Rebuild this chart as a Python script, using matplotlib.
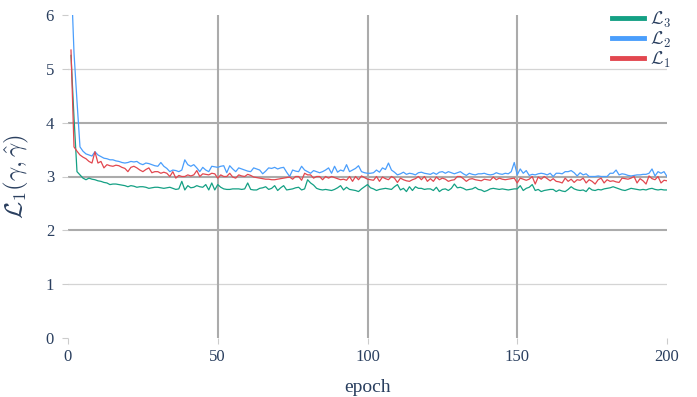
import numpy as np
import matplotlib
matplotlib.use("Agg")
import matplotlib.pyplot as plt

plt.rcParams["font.family"] = ["Liberation Serif", "DejaVu Serif"]
plt.rcParams["mathtext.fontset"] = "cm"

epochs = np.arange(1, 201)

loss_l1 = [
    5.35, 3.55, 3.47, 3.40, 3.36, 3.33, 3.28, 3.25, 3.46, 3.25,
    3.28, 3.16, 3.22, 3.20, 3.19, 3.21, 3.20, 3.17, 3.15, 3.09,
    3.17, 3.19, 3.16, 3.12, 3.09, 3.13, 3.16, 3.07, 3.09, 3.09,
    3.06, 3.08, 3.06, 3.00, 3.09, 2.97, 3.02, 3.00, 3.00, 3.03,
    3.01, 3.03, 3.11, 3.00, 3.05, 3.04, 3.03, 3.06, 3.05, 2.97,
    3.03, 3.00, 3.00, 3.06, 2.99, 2.97, 3.03, 3.01, 3.00, 3.04,
    3.02, 2.99, 2.98, 2.97, 2.96, 2.95, 2.95, 2.94, 2.94, 2.95,
    2.96, 2.97, 2.98, 2.99, 2.95, 3.00, 3.00, 2.93, 3.06, 3.03,
    3.03, 2.97, 3.00, 3.00, 2.94, 3.00, 2.97, 3.00, 2.98, 2.96,
    2.94, 2.95, 2.93, 3.00, 2.91, 3.00, 2.94, 3.01, 2.98, 2.95,
    2.94, 2.93, 3.00, 2.91, 2.99, 2.96, 2.94, 3.00, 2.97, 2.89,
    2.97, 2.94, 2.92, 2.91, 2.94, 2.96, 3.00, 2.94, 3.00, 2.91,
    2.96, 2.91, 2.99, 2.94, 2.97, 2.95, 2.91, 2.93, 2.94, 3.00,
    3.00, 2.96, 2.91, 2.95, 2.96, 2.94, 2.93, 2.92, 2.95, 2.94,
    2.93, 2.99, 2.94, 2.97, 2.95, 2.94, 2.95, 2.96, 2.97, 2.88,
    2.97, 2.95, 2.93, 2.95, 3.00, 2.86, 2.99, 2.95, 3.00, 2.96,
    2.92, 2.96, 2.91, 2.90, 2.88, 2.97, 2.91, 2.95, 2.89, 2.94,
    2.93, 2.97, 2.88, 2.94, 2.91, 2.86, 2.94, 2.97, 2.88, 2.94,
    2.91, 2.92, 2.90, 2.89, 2.97, 2.96, 2.95, 2.97, 3.00, 2.88,
    2.96, 2.92, 2.86, 3.01, 2.96, 2.94, 3.00, 2.88, 2.93, 2.92,
]

loss_l2 = [
    6.80, 5.30, 4.40, 3.55, 3.47, 3.42, 3.40, 3.38, 3.46, 3.40,
    3.37, 3.34, 3.33, 3.31, 3.31, 3.29, 3.28, 3.26, 3.25, 3.26,
    3.28, 3.27, 3.28, 3.24, 3.22, 3.25, 3.24, 3.22, 3.20, 3.19,
    3.26, 3.19, 3.15, 3.09, 3.12, 3.11, 3.09, 3.12, 3.31, 3.22,
    3.19, 3.22, 3.16, 3.09, 3.17, 3.12, 3.09, 3.19, 3.18, 3.17,
    3.19, 3.20, 3.07, 3.20, 3.14, 3.09, 3.16, 3.14, 3.12, 3.10,
    3.09, 3.16, 3.14, 3.12, 3.05, 3.10, 3.16, 3.15, 3.17, 3.14,
    3.16, 3.17, 3.08, 3.00, 3.12, 3.10, 3.09, 3.19, 3.12, 3.09,
    3.06, 3.11, 3.09, 3.07, 3.09, 3.12, 3.16, 3.06, 3.19, 3.08,
    3.12, 3.10, 3.22, 3.09, 3.12, 3.15, 3.20, 3.09, 3.07, 3.06,
    3.06, 3.07, 3.12, 3.08, 3.16, 3.13, 3.25, 3.12, 3.08, 3.03,
    3.05, 3.08, 3.04, 3.06, 3.05, 3.03, 3.07, 3.08, 3.06, 3.05,
    3.04, 3.07, 3.04, 3.08, 3.09, 3.06, 3.09, 3.07, 3.05, 3.07,
    3.09, 3.05, 3.02, 3.06, 3.04, 3.03, 3.05, 3.05, 3.06, 3.04,
    3.03, 3.04, 3.07, 3.05, 3.04, 3.06, 3.05, 3.09, 3.26, 3.03,
    3.14, 3.06, 3.11, 3.02, 3.04, 3.03, 3.05, 3.06, 3.05, 3.03,
    3.06, 3.00, 3.06, 3.06, 3.05, 3.09, 3.09, 3.11, 3.07, 3.01,
    3.07, 3.03, 3.05, 3.00, 3.00, 3.00, 3.01, 3.00, 3.00, 3.00,
    3.06, 3.06, 3.12, 3.03, 3.05, 3.04, 3.02, 3.01, 3.02, 3.03,
    3.03, 3.04, 3.04, 3.06, 3.14, 3.01, 3.09, 3.06, 3.09, 3.00,
]

loss_l3 = [
    5.25, 4.10, 3.09, 3.03, 2.97, 2.94, 2.97, 2.95, 2.94, 2.92,
    2.91, 2.89, 2.88, 2.85, 2.86, 2.86, 2.85, 2.84, 2.83, 2.81,
    2.83, 2.82, 2.80, 2.81, 2.81, 2.80, 2.78, 2.79, 2.80, 2.80,
    2.79, 2.78, 2.79, 2.80, 2.78, 2.76, 2.77, 2.91, 2.75, 2.83,
    2.79, 2.80, 2.83, 2.81, 2.80, 2.85, 2.75, 2.88, 2.75, 2.85,
    2.80, 2.77, 2.76, 2.76, 2.77, 2.77, 2.77, 2.76, 2.77, 2.88,
    2.76, 2.75, 2.75, 2.78, 2.79, 2.81, 2.76, 2.78, 2.83, 2.74,
    2.79, 2.83, 2.75, 2.76, 2.77, 2.79, 2.80, 2.75, 2.77, 2.94,
    2.88, 2.84, 2.78, 2.76, 2.75, 2.76, 2.75, 2.74, 2.76, 2.79,
    2.83, 2.75, 2.80, 2.76, 2.75, 2.74, 2.72, 2.77, 2.81, 2.85,
    2.79, 2.77, 2.74, 2.76, 2.77, 2.78, 2.77, 2.76, 2.81, 2.85,
    2.75, 2.78, 2.72, 2.81, 2.74, 2.81, 2.78, 2.78, 2.76, 2.77,
    2.77, 2.74, 2.80, 2.72, 2.76, 2.77, 2.74, 2.78, 2.86, 2.79,
    2.80, 2.78, 2.75, 2.76, 2.77, 2.80, 2.76, 2.75, 2.72, 2.74,
    2.77, 2.78, 2.77, 2.76, 2.77, 2.76, 2.75, 2.76, 2.77, 2.77,
    2.83, 2.74, 2.78, 2.80, 2.85, 2.74, 2.76, 2.72, 2.74, 2.75,
    2.76, 2.76, 2.72, 2.75, 2.73, 2.72, 2.76, 2.81, 2.77, 2.75,
    2.74, 2.75, 2.72, 2.79, 2.75, 2.74, 2.76, 2.75, 2.77, 2.78,
    2.79, 2.81, 2.79, 2.77, 2.75, 2.74, 2.76, 2.78, 2.77, 2.76,
    2.75, 2.76, 2.75, 2.77, 2.78, 2.76, 2.75, 2.76, 2.75, 2.75,
]

text_col = "#2a3f5f"
c_green = "#14a084"
c_blue = "#4a9efc"
c_red = "#e2474f"

fig = plt.figure(figsize=(6.97, 3.97), dpi=100)
ax = fig.add_axes([68 / 697, 59 / 397, 599 / 697, 323 / 397])

# grid: heavier lines at 2,3,4 and the x majors, light ones at 1 and 5
for y in [1, 5]:
    ax.axhline(y, color="#d4d4d4", lw=0.9, zorder=0)
for y in [2, 3, 4]:
    ax.axhline(y, color="#ababab", lw=1.5, zorder=0)
for x in [50, 100, 150]:
    ax.axvline(x, color="#ababab", lw=1.5, zorder=0)

ax.plot(epochs, loss_l3, color=c_green, lw=0.9, label=r"$\mathcal{L}_3$")
ax.plot(epochs, loss_l2, color=c_blue, lw=0.9, label=r"$\mathcal{L}_2$")
ax.plot(epochs, loss_l1, color=c_red, lw=0.9, label=r"$\mathcal{L}_1$")

ax.set_xlim(0, 200)
ax.set_ylim(0, 6)
ax.set_xticks([0, 50, 100, 150, 200])
ax.set_yticks(range(7))
for s in ax.spines.values():
    s.set_visible(False)
ax.tick_params(axis="both", colors="#cccccc", labelcolor=text_col, labelsize=12,
               length=4, width=0.8)
ax.tick_params(axis="y", pad=6)
ax.tick_params(axis="x", pad=4)

ax.set_xlabel("epoch", color=text_col, fontsize=14, labelpad=10)
ax.set_ylabel(r"$\mathcal{L}_1(\gamma,\hat{\gamma})$", color=text_col, fontsize=18)
ax.yaxis.set_label_coords(-0.062, 0.5)

leg = fig.legend(loc="upper right", bbox_to_anchor=(684 / 697, 400 / 397),
                 frameon=False, fontsize=13, handlelength=1.75, handletextpad=0.35,
                 labelspacing=0.0, borderpad=0.2)
for h in leg.legend_handles:
    h.set_linewidth(3.5)
for t in leg.get_texts():
    t.set_color(text_col)

fig.savefig("out.png", dpi=100)
